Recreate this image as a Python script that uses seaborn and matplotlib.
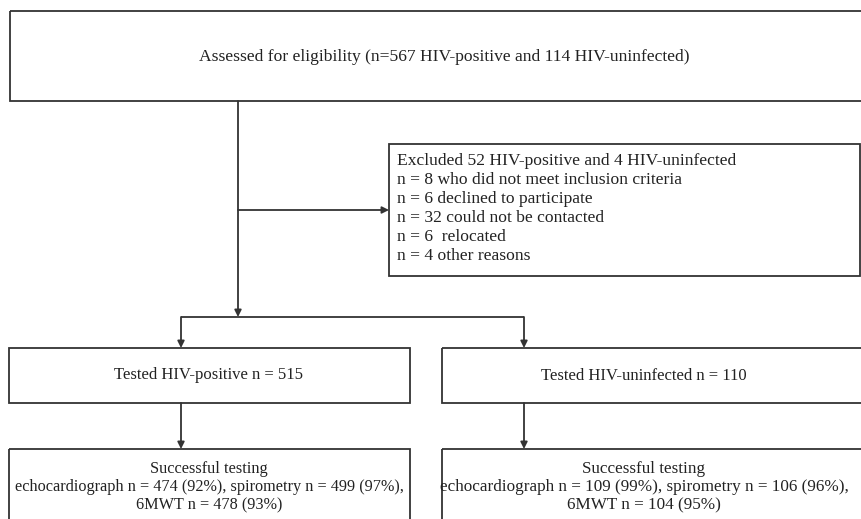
import matplotlib
matplotlib.use("Agg")
import matplotlib.pyplot as plt
from matplotlib.patches import Rectangle
import seaborn as sns

sns.set_theme(style="white")
plt.rcParams['font.family'] = ['Liberation Serif', 'DejaVu Serif']

# ---- content ----
top_text = "Assessed for eligibility (n=567 HIV-positive and 114 HIV-uninfected)"
excluded_lines = [
    "Excluded 52 HIV-positive and 4 HIV-uninfected",
    "n = 8 who did not meet inclusion criteria",
    "n = 6 declined to participate",
    "n = 32 could not be contacted",
    "n = 6  relocated",
    "n = 4 other reasons",
]
tested_labels = ["Tested HIV-positive n = 515", "Tested HIV-uninfected n = 110"]
success_labels = [
    "Successful testing\nechocardiograph n = 474 (92%), spirometry n = 499 (97%),\n6MWT n = 478 (93%)",
    "Successful testing\nechocardiograph n = 109 (99%), spirometry n = 106 (96%),\n6MWT n = 104 (95%)",
]

W, H = 861, 519
fig = plt.figure(figsize=(W / 100, H / 100), dpi=100)
ax = fig.add_axes([0, 0, 1, 1])
ax.set_xlim(0, W)
ax.set_ylim(H, 0)
ax.axis("off")

lc = "#333333"
tc = "#222222"
lw = 1.3


def box(x0, y0, x1, y1):
    ax.add_patch(Rectangle((x0, y0), x1 - x0, y1 - y0, fill=False,
                           edgecolor=lc, linewidth=lw))


def line(xs, ys):
    ax.plot(xs, ys, color=lc, linewidth=lw, solid_capstyle="butt")


def arrow(x0, y0, x1, y1):
    ax.annotate("", xy=(x1, y1), xytext=(x0, y0),
                arrowprops=dict(arrowstyle="-|>", color=lc, lw=lw,
                                mutation_scale=10, shrinkA=0, shrinkB=0))


# top box
box(10, 11, 870, 101)
ax.text(444, 57, top_text, ha="center", va="center", fontsize=12.6, color=tc)

# main vertical + side arrow
arrow(238, 101, 238, 317)
arrow(238, 210, 389, 210)

# excluded box
box(389, 144, 860, 276)
for i, t in enumerate(excluded_lines):
    ax.text(397, 161 + i * 19, t, ha="left", va="center", fontsize=12.6, color=tc)

# split
line([181, 524], [317, 317])
arrow(181, 317, 181, 348)
arrow(524, 317, 524, 348)

# tested boxes
box(9, 348, 410, 403)
box(442, 348, 870, 403)
ax.text(209, 375, tested_labels[0], ha="center", va="center", fontsize=12, color=tc)
ax.text(644, 376, tested_labels[1], ha="center", va="center", fontsize=12, color=tc)

# arrows down
arrow(181, 403, 181, 449)
arrow(524, 403, 524, 449)

# success boxes
box(9, 449, 410, 540)
box(442, 449, 870, 540)
ax.text(209, 487, success_labels[0], ha="center", va="center", fontsize=11.7,
        color=tc, linespacing=1.2)
ax.text(644, 487, success_labels[1], ha="center", va="center", fontsize=12.3,
        color=tc, linespacing=1.2)

fig.savefig("out.png", dpi=100)
